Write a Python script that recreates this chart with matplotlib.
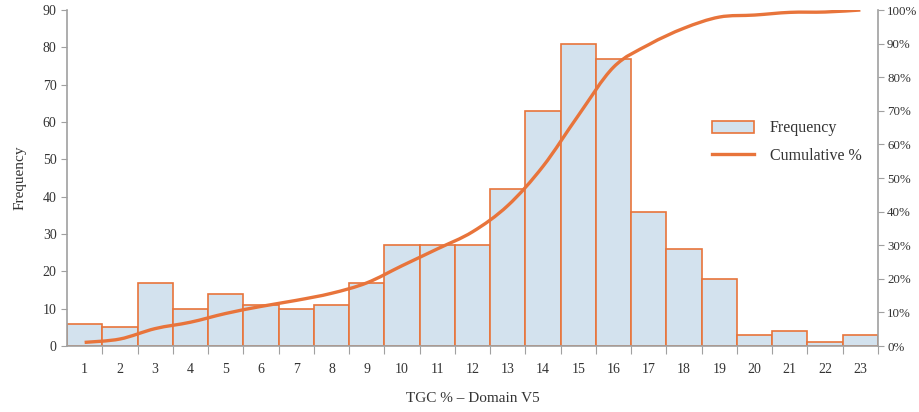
import matplotlib as mpl
mpl.use('Agg')
import matplotlib.pyplot as plt
from matplotlib.path import Path
from matplotlib.patches import PathPatch
from matplotlib.lines import Line2D
from matplotlib.patches import Patch
from matplotlib.ticker import FixedLocator, PercentFormatter

bins = list(range(1, 24))
frequency = [6, 5, 17, 10, 14, 11, 10, 11, 17, 27, 27, 27, 42, 63, 81, 77,
             36, 26, 18, 3, 4, 1, 3]
cumulative = [1.1, 2.1, 5.2, 7.1, 9.7, 11.8, 13.6, 15.7, 18.8, 23.9, 28.9,
              34.0, 41.8, 53.5, 68.6, 83.0, 89.7, 94.6, 97.9, 98.5, 99.3,
              99.4, 100.0]

barFace = '#d3e2ee'
orange = '#e8743b'
grey = '#a0a0a0'
textCol = '#333333'

plt.rcParams['font.family'] = ['Liberation Serif', 'DejaVu Serif']

fig = plt.figure(figsize=(9.19, 4.12), dpi=100)
ax = fig.add_axes([0.0729, 0.160, 0.8825, 0.8157])
ax.bar(bins, frequency, width=1.0, color=barFace, edgecolor=orange,
       linewidth=1.2, zorder=2)
ax.set_xlim(0.5, 23.5)
ax.set_ylim(0, 90)
ax.set_yticks(range(0, 91, 10))

# ticks at bin edges, labels at bin centres
ax.xaxis.set_major_locator(FixedLocator([b + 0.5 for b in bins[:-1]] + [23.5]))
ax.xaxis.set_minor_locator(FixedLocator(bins))
ax.set_xticklabels([], minor=False)
ax.set_xticklabels([str(b) for b in bins], minor=True)
ax.tick_params(axis='x', which='major', length=6, color=grey, direction='out')
ax.tick_params(axis='x', which='minor', length=0, pad=12, labelsize=10,
               labelcolor=textCol)
ax.tick_params(axis='y', length=4, color=grey, labelsize=10,
               labelcolor=textCol)

for s in ['top', 'right']:
    ax.spines[s].set_visible(False)
for s in ['left', 'bottom']:
    ax.spines[s].set_color(grey)
    ax.spines[s].set_linewidth(1.2)

ax.set_xlabel('TGC % \u2013 Domain V5', fontsize=11, color=textCol, labelpad=12)
ax.set_ylabel('Frequency', fontsize=11, color=textCol, labelpad=12)

ax2 = ax.twinx()
ax2.set_ylim(0, 100)
ax2.set_yticks(range(0, 101, 10))
ax2.yaxis.set_major_formatter(PercentFormatter(decimals=0))
ax2.tick_params(axis='y', length=4, pad=2.5, color=grey, labelsize=9.3,
                labelcolor=textCol)
for s in ['top', 'left', 'bottom']:
    ax2.spines[s].set_visible(False)
ax2.spines['right'].set_color(grey)
ax2.spines['right'].set_linewidth(1.2)

# smoothed line (Catmull-Rom as cubic Bezier)
pts = list(zip(bins, cumulative))
verts = [pts[0]]
codes = [Path.MOVETO]
for i in range(len(pts) - 1):
    p0 = pts[i - 1] if i > 0 else pts[i]
    p1 = pts[i]
    p2 = pts[i + 1]
    p3 = pts[i + 2] if i + 2 < len(pts) else pts[i + 1]
    c1 = (p1[0] + (p2[0] - p0[0]) / 6.0, p1[1] + (p2[1] - p0[1]) / 6.0)
    c2 = (p2[0] - (p3[0] - p1[0]) / 6.0, p2[1] - (p3[1] - p1[1]) / 6.0)
    verts += [c1, c2, p2]
    codes += [Path.CURVE4] * 3
ax2.add_patch(PathPatch(Path(verts, codes), facecolor='none', edgecolor=orange,
                        linewidth=2.4, capstyle='butt', zorder=3))

handles = [Patch(facecolor=barFace, edgecolor=orange, linewidth=1.2),
           Line2D([], [], color=orange, linewidth=2.4)]
ax2.legend(handles, ['Frequency', 'Cumulative %'], loc='upper left',
           bbox_to_anchor=(0.778, 0.715), frameon=False, fontsize=11.5,
           handlelength=2.6, handleheight=0.8, labelspacing=0.75,
           handletextpad=1.0, labelcolor=textCol)

fig.savefig('out.png', dpi=100)
